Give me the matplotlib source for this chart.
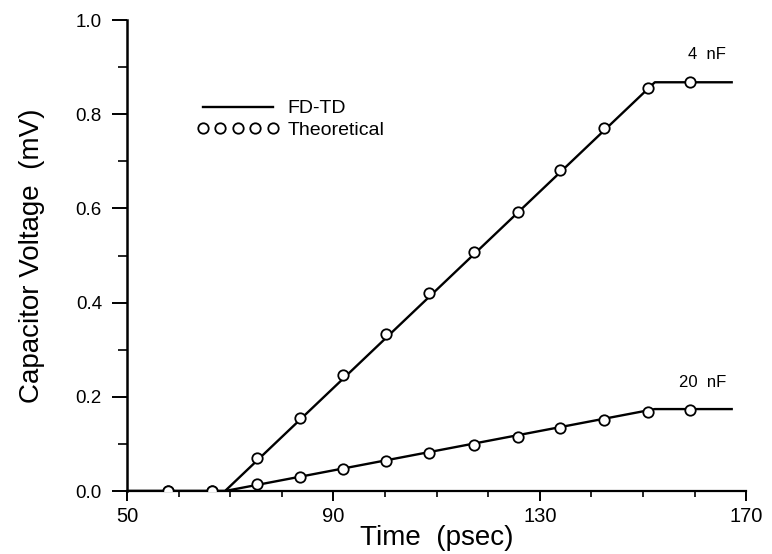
import matplotlib
matplotlib.use('Agg')
import matplotlib.pyplot as plt
from matplotlib.ticker import FixedLocator, MultipleLocator, FormatStrFormatter

plt.rcParams['font.family'] = ['Liberation Sans', 'DejaVu Sans']

# FD-TD curves (piecewise: flat, ramp, plateau)
fdtd_t = [50, 69.0, 152.3, 167.2]
fdtd_4nf = [0.0, 0.0, 0.868, 0.868]
fdtd_20nf = [0.0, 0.0, 0.174, 0.174]

# theoretical samples
theo_t = [57.9, 66.5, 75.2, 83.5, 91.9, 100.2, 108.5, 117.2, 125.8, 133.9, 142.4, 151.0, 159.1]
theo_4nf = [0.0, 0.0, 0.070, 0.155, 0.246, 0.333, 0.420, 0.507, 0.592, 0.682, 0.771, 0.856, 0.868]
theo_20nf = [0.0, 0.0, 0.015, 0.030, 0.047, 0.064, 0.081, 0.098, 0.115, 0.134, 0.151, 0.168, 0.172]

x_ticks = [50, 90, 130, 170]

fig = plt.figure(figsize=(7.72, 5.54), dpi=100)
ax = fig.add_axes([0.1645, 0.1137, 0.802, 0.850])

line_fd, = ax.plot(fdtd_t, fdtd_4nf, color='black', lw=1.7, label='FD-TD', zorder=2)
ax.plot(fdtd_t, fdtd_20nf, color='black', lw=1.7, zorder=2)
mk = dict(ls='none', marker='o', ms=7.5, mfc='white', mec='black', mew=1.3, zorder=3)
line_th, = ax.plot(theo_t, theo_4nf, label='Theoretical', **mk)
ax.plot(theo_t, theo_20nf, **mk)

ax.text(158.7, 0.926, '4  nF', fontsize=12, va='center', ha='left')
ax.text(157.0, 0.231, '20  nF', fontsize=12, va='center', ha='left')

ax.set_xlim(50, 170)
ax.set_ylim(0, 1.0)
ax.xaxis.set_major_locator(FixedLocator(x_ticks))
ax.xaxis.set_minor_locator(MultipleLocator(10))
ax.yaxis.set_major_locator(MultipleLocator(0.2))
ax.yaxis.set_minor_locator(MultipleLocator(0.1))
ax.yaxis.set_major_formatter(FormatStrFormatter('%.1f'))

for s in ['top', 'right']:
    ax.spines[s].set_visible(False)
ax.spines['left'].set_linewidth(1.8)
ax.spines['bottom'].set_linewidth(1.6)

ax.tick_params(axis='y', which='major', length=11, width=1.4, pad=7, labelsize=13.5)
ax.tick_params(axis='y', which='minor', length=6.5, width=1.2)
ax.tick_params(axis='x', which='major', length=7.5, width=1.4, pad=4, labelsize=14.5)
ax.tick_params(axis='x', which='minor', length=4, width=1.2)

ax.set_xlabel('Time  (psec)', fontsize=20, labelpad=-1)
ax.set_ylabel('Capacitor Voltage  (mV)', fontsize=20, labelpad=22)

ax.legend(handles=[line_fd, line_th], loc='upper left', bbox_to_anchor=(0.085, 0.868),
          frameon=False, numpoints=5, handlelength=4.2, handletextpad=0.45,
          labelspacing=0.2, fontsize=14, markerscale=1.0)

fig.savefig('out.png', dpi=100)
